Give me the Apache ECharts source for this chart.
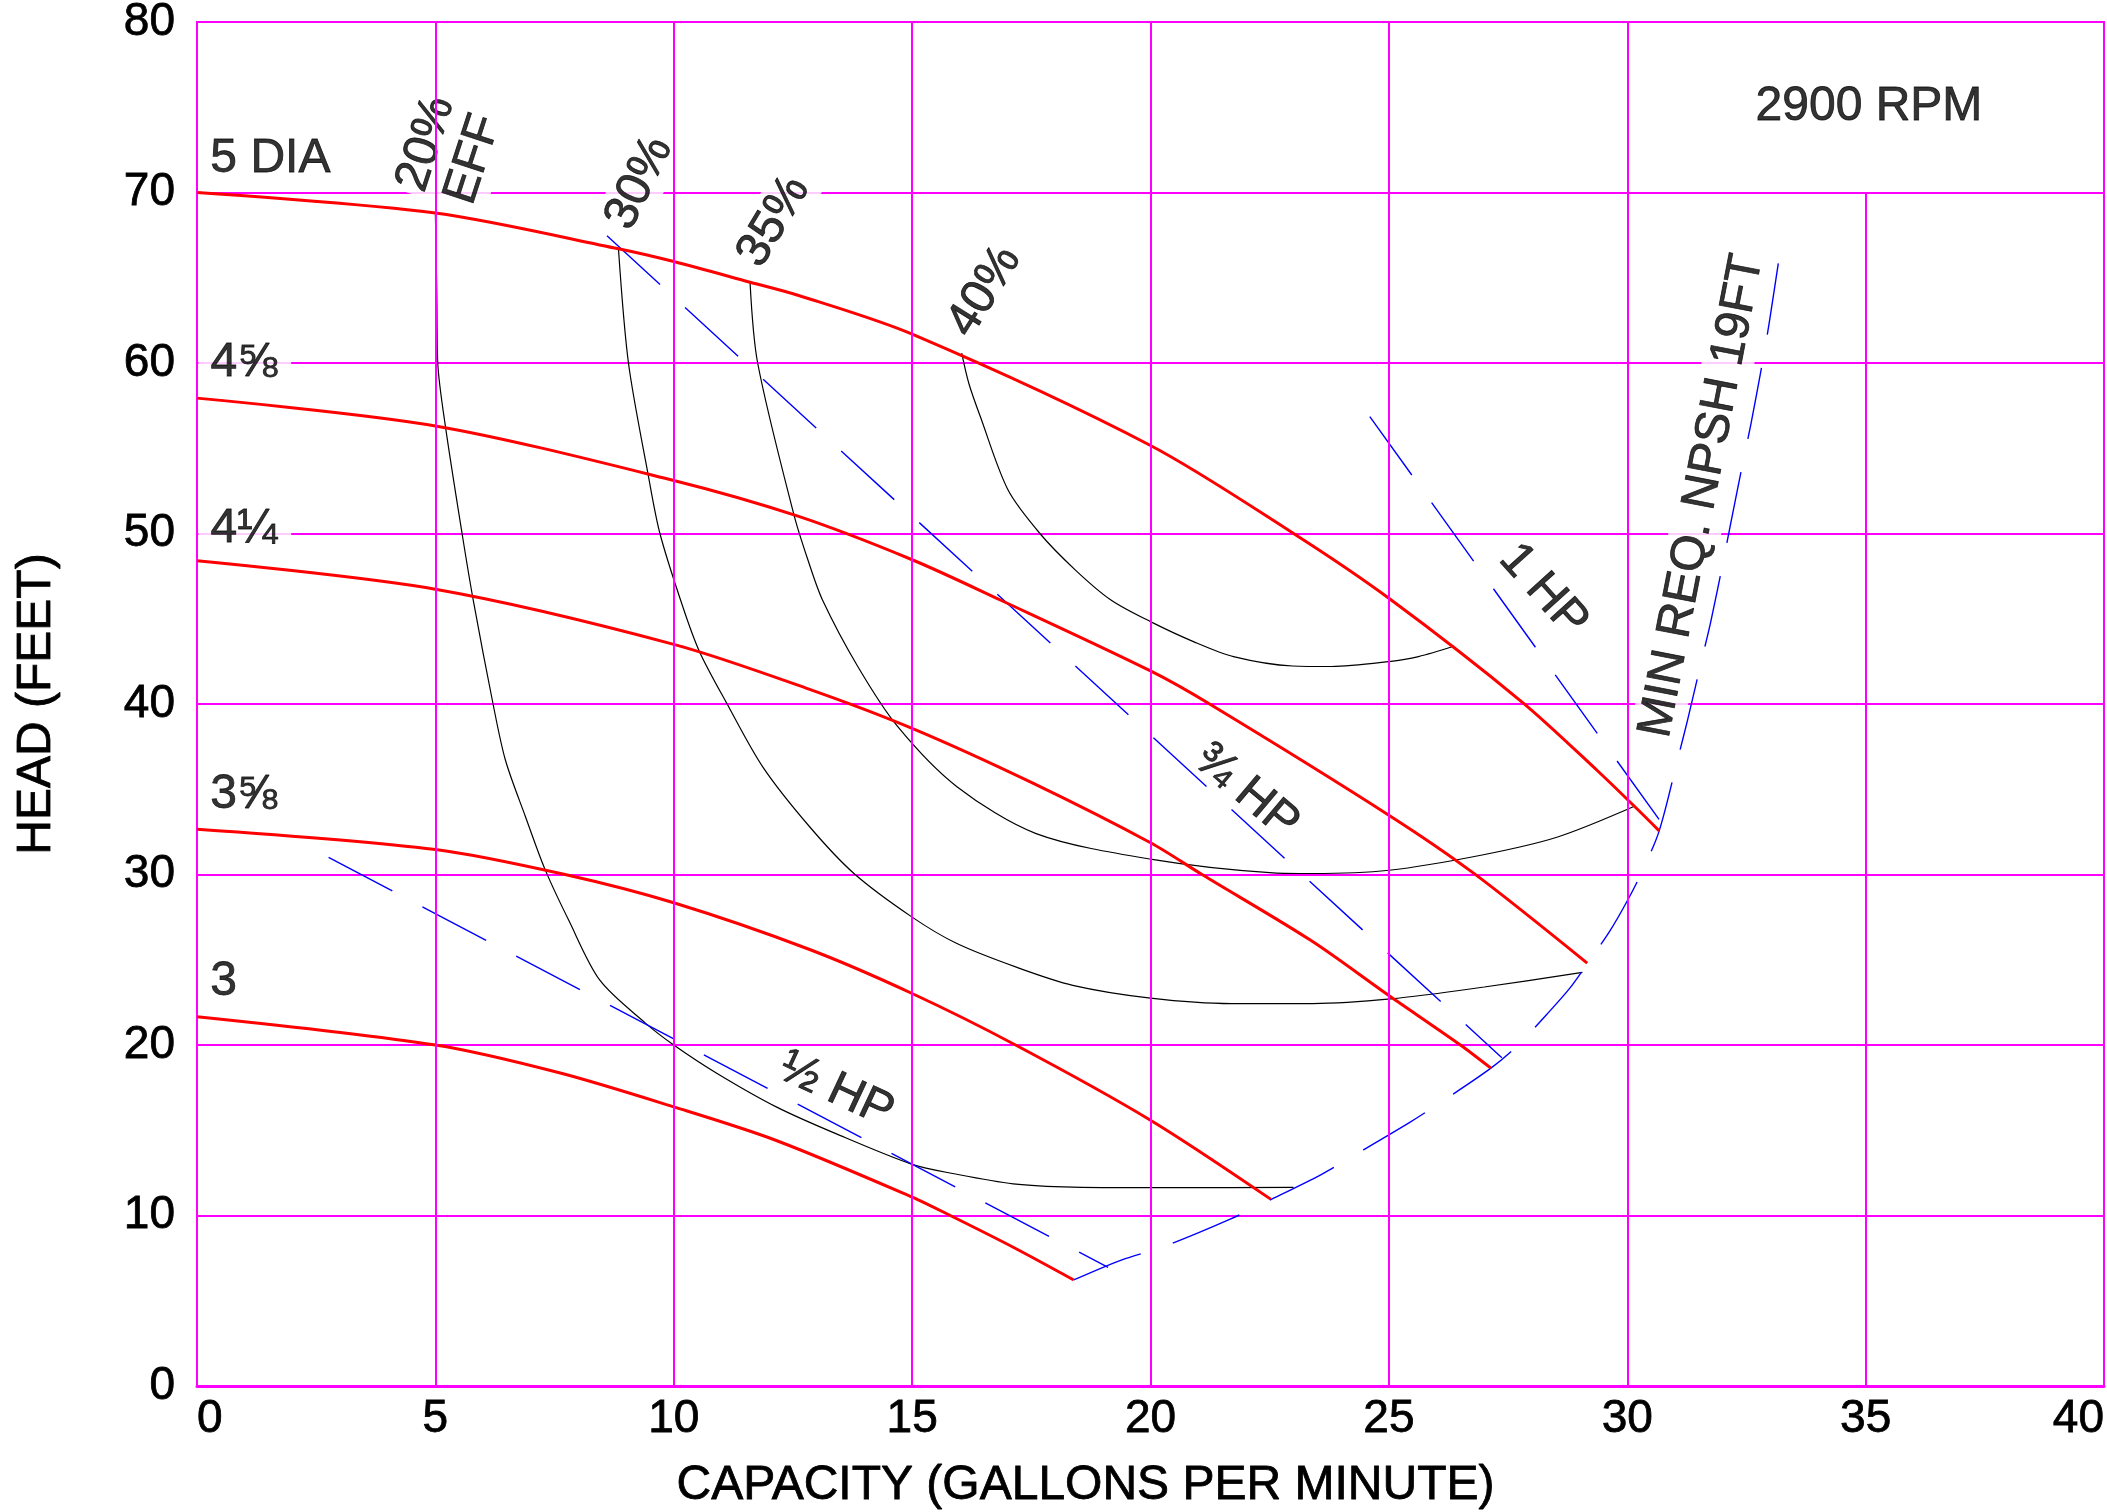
<!DOCTYPE html>
<html>
<head>
<meta charset="utf-8">
<script src="https://cdn.jsdelivr.net/npm/echarts@6/dist/echarts.min.js"></script>
<style>
  html, body { margin: 0; padding: 0; background: #ffffff; }
  #chart { width: 2107px; height: 1512px; }
</style>
</head>
<body>
<div id="chart"></div>
<script>
// ---------------- DATA ----------------
const xTicks = [0, 5, 10, 15, 20, 25, 30, 35, 40];
const yTicks = [0, 10, 20, 30, 40, 50, 60, 70, 80];
// vertical grid lines inside the plot and the head value where each one stops
const vGridX   = [5, 10, 15, 20, 25, 30, 35];
const vGridTop = [80, 80, 80, 80, 80, 80, 70];

// impeller head curves [GPM, feet]
const dia5   = [[0,70],[5,68.8],[8.84,66.7],[10,65.95],[11.6,64.74],[12.62,63.96],[15,61.69],[20,55.16],[23,50],[25,46.2],[27.8,40.1],[29.37,36.1],[30.15,34.0],[30.67,32.56]];
const dia4_58 = [[0,57.94],[5,56.31],[10,53.11],[12.62,51.0],[15,48.46],[16.85,46.1],[20,41.94],[21.24,40],[25,33.48],[26.79,30.05],[29.16,24.8]];
const dia4_14 = [[0,48.4],[5,46.73],[10,43.5],[12.85,40.86],[15,38.57],[17.5,35.4],[20,31.86],[21.08,30],[23.36,26.14],[25,22.9],[26.5,20],[27.14,18.64]];
const dia3_58 = [[0,32.66],[5,31.47],[7.72,30],[10,28.34],[12.85,25.6],[15,23.02],[17.17,20],[20,15.59],[22.52,10.96]];
const dia3    = [[0,21.66],[5,20],[7.6,18.37],[10,16.37],[12.15,14.4],[15,11.08],[15.8,10],[17.12,8.14],[18.39,6.22]];

// efficiency curves
const eff20 = [[5.0,68.8],[5.03,64],[5.05,60],[5.21,56.3],[5.56,50],[5.8,46],[6.21,40],[6.47,36.7],[6.89,33.39],[7.3,30.3],[7.8,27.3],[8.45,23.8],[9.4,21.3],[10,20],[10.91,18.33],[12.15,16.37],[13.4,14.8],[15,13.0],[15.88,12.45],[17.12,11.86],[18.37,11.67],[20.59,11.63],[23.0,11.65]];
const eff30 = [[8.84,66.7],[9.05,60],[9.46,53.5],[9.71,50],[10.19,45.7],[10.54,43.07],[11.12,40],[11.87,36.3],[12.85,32.8],[13.78,30.06],[15,27.5],[15.94,25.95],[17.2,24.55],[18.37,23.5],[20,22.75],[21.7,22.43],[23.4,22.43],[25.04,22.7],[27.0,23.4],[29.06,24.26]];
const eff35 = [[11.6,64.74],[11.76,60],[12.53,51],[12.82,48.4],[13.12,46.1],[13.86,42.2],[14.69,38.7],[15.94,35.15],[17.6,32.4],[20,30.9],[22.57,30.1],[23.4,30.06],[25,30.25],[26.93,31.13],[28.54,32.2],[30.15,34.0]];
const eff40 = [[16.04,60.58],[16.19,58.8],[16.43,56.86],[17.01,52.56],[17.68,50],[18.42,47.87],[19.17,46.1],[20,44.83],[20.9,43.66],[21.74,42.78],[22.98,42.23],[23.8,42.2],[25,42.49],[25.62,42.78],[26.37,43.4]];

// horsepower lines and NPSH curve
const hpHalf  = [[2.76,31.0],[19.11,6.96]];
const hpThree = [[8.6,67.46],[27.37,19.25]];
const hpOne   = [[24.6,56.86],[30.7,33.1]];
const npsh = [[18.39,6.22],[19.4,7.4],[20.3,8.2],[21.66,9.77],[22.5,10.9],[23.58,12.4],[24.19,13.4],[25.43,15.45],[26.03,16.53],[27.14,18.64],[27.7,19.97],[28.32,21.82],[28.8,23.35],[29.16,24.76],[29.63,26.66],[29.99,28.4],[30.29,30.05],[30.67,32.56],[31.07,36.9],[31.26,39],[31.58,42.8],[31.75,44.8],[32.03,48.6],[32.17,50.6],[32.45,54.5],[32.6,56.5],[32.86,60.4],[32.98,62.4],[33.22,66.8]];

// annotation texts and their anchor points [GPM, feet]
const noteText = ['5 DIA', '4⅝', '4¼', '3⅝', '3', '20%\nEFF', '30%', '35%', '40%', '½ HP', '¾ HP', '1 HP', 'MIN REQ. NPSH 19FT', '2900 RPM'];
const noteX    = [0.28, 0.03, 0.03, 0.28, 0.28, 5.3, 9.28, 12.1, 16.52, 13.41, 22.01, 28.24, 31.57, 35.07];
const noteY    = [72.0, 60.0, 50.3, 34.7, 23.7, 72.4, 70.56, 68.3, 64.2, 17.36, 34.86, 46.65, 52.2, 75.0];

// ---------------- STYLE ----------------
const FONT = '"Liberation Sans", Arial, Helvetica, sans-serif';
const MAGENTA = '#ff00ff';
const RED = '#ff0000';
const BLUE = '#0000ff';
const DASH = [72, 34];
const TXT = { fontFamily: FONT, color: '#000000', textBorderColor: '#000000', textBorderWidth: 0.8 };
const noteStyle = [
  { align: 'left' },
  { align: 'left', bg: true, pad: [0, 14, 0, 12] },
  { align: 'left', bg: true, pad: [0, 14, 0, 12] },
  { align: 'left' },
  { align: 'left' },
  { rotate: 72, bg: true, pad: [2, 4, 2, 4], lineHeight: 50 },
  { rotate: 64, bg: true, pad: [2, 4, 2, 4] },
  { rotate: 59, bg: true, pad: [2, 4, 2, 4] },
  { rotate: 58 },
  { rotate: -25 },
  { rotate: -40 },
  { rotate: -48 },
  { rotate: 79, bg: true, pad: [2, 4, 2, 4] },
  {}
];

function curve(name, data, color, width, dashed, smooth) {
  return {
    type: 'line', name: name, data: data,
    symbol: 'none', showSymbol: false,
    smooth: smooth === false ? false : 0.3,
    lineStyle: { color: color, width: width, type: dashed ? DASH : 'solid', cap: 'butt' },
    z: 3, silent: true, animation: false
  };
}

const vGridData = vGridX.map((x, i) => [{ coord: [x, 0] }, { coord: [x, vGridTop[i]] }]);

const noteData = noteText.map((t, i) => {
  const s = noteStyle[i];
  const lab = Object.assign({
    show: true, position: 'inside', formatter: '{b}',
    rotate: s.rotate || 0,
    align: s.align || 'center', verticalAlign: 'middle',
    fontSize: 48
  }, TXT);
  if (s.lineHeight) lab.lineHeight = s.lineHeight;
  if (s.bg) { lab.backgroundColor = '#ffffff'; lab.padding = s.pad; }
  return { name: t, value: [noteX[i], noteY[i]], label: lab };
});

const option = {
  backgroundColor: '#ffffff',
  animation: false,
  grid: {
    left: 197, right: 3, top: 22, bottom: 126,
    outerBoundsMode: 'none', containLabel: false,
    show: true, borderColor: MAGENTA, borderWidth: 2, backgroundColor: 'transparent'
  },
  xAxis: {
    type: 'value', min: xTicks[0], max: xTicks[xTicks.length - 1], interval: 5,
    name: 'CAPACITY (GALLONS PER MINUTE)', nameLocation: 'middle', nameGap: 76,
    nameTextStyle: Object.assign({ fontSize: 48, padding: [0, 130, 0, 0] }, TXT),
    axisLine: { show: true, lineStyle: { color: MAGENTA, width: 3 } },
    axisTick: { show: false },
    splitLine: { show: false },
    axisLabel: Object.assign({
      fontSize: 46, margin: 10,
      alignMinLabel: 'left', alignMaxLabel: 'right',
      formatter: v => xTicks.indexOf(v) >= 0 ? String(v) : ''
    }, TXT)
  },
  yAxis: {
    type: 'value', min: yTicks[0], max: yTicks[yTicks.length - 1], interval: 10,
    name: 'HEAD (FEET)', nameLocation: 'middle', nameGap: 136, nameRotate: 90,
    nameTextStyle: Object.assign({ fontSize: 48 }, TXT),
    axisLine: { show: true, lineStyle: { color: MAGENTA, width: 2 } },
    axisTick: { show: false },
    splitLine: { show: true, lineStyle: { color: MAGENTA, width: 2 } },
    axisLabel: Object.assign({
      fontSize: 46, margin: 22,
      formatter: v => yTicks.indexOf(v) >= 0 ? String(v) : ''
    }, TXT)
  },
  series: [
    {
      type: 'line', name: 'grid', data: [], symbol: 'none', z: 1, silent: true, animation: false,
      markLine: {
        silent: true, symbol: ['none', 'none'], animation: false,
        label: { show: false },
        lineStyle: { color: MAGENTA, width: 2, type: 'solid' },
        emphasis: { disabled: true },
        data: vGridData
      }
    },
    {
      type: 'scatter', name: 'notes', data: noteData,
      symbolSize: 1, itemStyle: { color: 'rgba(0,0,0,0)' },
      z: 2, silent: true, animation: false
    },
    curve('20% EFF', eff20, '#000000', 1.2, false),
    curve('30% EFF', eff30, '#000000', 1.2, false),
    curve('35% EFF', eff35, '#000000', 1.2, false),
    curve('40% EFF', eff40, '#000000', 1.2, false),
    curve('1/2 HP', hpHalf, BLUE, 1.4, true, false),
    curve('3/4 HP', hpThree, BLUE, 1.4, true, false),
    curve('1 HP', hpOne, BLUE, 1.4, true, false),
    curve('NPSH', npsh, BLUE, 1.4, true),
    curve('5 DIA', dia5, RED, 3, false),
    curve('4 5/8', dia4_58, RED, 3, false),
    curve('4 1/4', dia4_14, RED, 3, false),
    curve('3 5/8', dia3_58, RED, 3, false),
    curve('3', dia3, RED, 3, false)
  ]
};

const chart = echarts.init(document.getElementById('chart'), null, { renderer: 'canvas' });
chart.setOption(option);
</script>
</body>
</html>
